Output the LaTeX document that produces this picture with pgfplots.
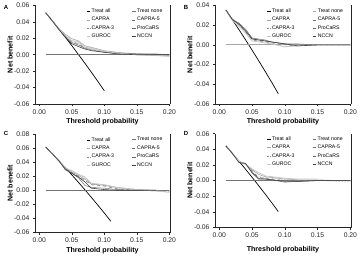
\documentclass[border=0pt]{standalone}
\usepackage{pgfplots}
\usepackage{pgfplotstable}
\pgfplotsset{compat=1.18}
\usepackage{fontspec}
\setmainfont{Liberation Sans}

% Net benefit of each model, one table per cohort
\pgfplotstableread{
pt    capra   capraf  caprat  procars guroc   nccn
0.01  0.0510  0.0510  0.0510  0.0510  0.0510  0.0510
0.02  0.0415  0.0414  0.0414  0.0413  0.0414  0.0413
0.03  0.0320  0.0312  0.0316  0.0312  0.0314  0.0310
0.04  0.0250  0.0230  0.0235  0.0220  0.0232  0.0212
0.05  0.0195  0.0165  0.0175  0.0150  0.0172  0.0135
0.06  0.0170  0.0130  0.0140  0.0120  0.0160  0.0100
0.07  0.0110  0.0090  0.0100  0.0080  0.0090  0.0070
0.08  0.0090  0.0070  0.0080  0.0060  0.0070  0.0050
0.10  0.0050  0.0040  0.0040  0.0030  0.0040  0.0030
0.12  0.0030  0.0020  0.0020  0.0020  0.0020  0.0010
0.15  0.0010  0.0010  0.0000  0.0010  0.0000  0.0000
0.18  0.0000  0.0000  -0.0010 0.0010  -0.0010 0.0000
0.20  -0.0010 0.0000  -0.0020 0.0000  -0.0020 0.0000
}\dataA
\pgfplotstableread{
pt    capra   capraf  caprat  procars guroc   nccn
0.01  0.0354  0.0354  0.0354  0.0354  0.0354  0.0354
0.02  0.0260  0.0250  0.0260  0.0260  0.0250  0.0255
0.03  0.0210  0.0200  0.0220  0.0220  0.0190  0.0210
0.04  0.0150  0.0130  0.0150  0.0160  0.0120  0.0140
0.05  0.0070  0.0050  0.0060  0.0070  0.0040  0.0060
0.06  0.0050  0.0040  0.0050  0.0060  0.0030  0.0050
0.07  0.0040  0.0030  0.0040  0.0050  0.0020  0.0040
0.08  0.0030  0.0020  0.0020  0.0030  0.0010  0.0030
0.10  0.0010  0.0000  -0.0020 0.0010  -0.0020 0.0010
0.12  0.0000  -0.0010 0.0000  0.0010  -0.0010 -0.0010
0.15  0.0000  0.0000  0.0000  0.0000  0.0000  0.0000
0.18  0.0000  0.0000  0.0000  0.0000  0.0000  0.0000
0.20  0.0000  0.0000  0.0000  0.0000  0.0000  0.0000
}\dataB
\pgfplotstableread{
pt    capra   capraf  caprat  procars guroc   nccn
0.01  0.0614  0.0614  0.0614  0.0614  0.0614  0.0614
0.02  0.0518  0.0518  0.0518  0.0518  0.0518  0.0518
0.03  0.0421  0.0421  0.0421  0.0421  0.0421  0.0421
0.04  0.0310  0.0300  0.0310  0.0290  0.0320  0.0300
0.05  0.0260  0.0250  0.0270  0.0240  0.0280  0.0240
0.06  0.0210  0.0200  0.0220  0.0180  0.0230  0.0190
0.07  0.0160  0.0140  0.0180  0.0070  0.0190  0.0120
0.08  0.0090  0.0080  0.0090  0.0040  0.0100  0.0030
0.10  0.0070  0.0060  0.0070  0.0030  0.0080  0.0010
0.12  0.0040  0.0020  0.0030  0.0010  0.0040  0.0000
0.15  0.0010  0.0000  0.0010  0.0000  0.0010  0.0000
0.18  0.0000  -0.0010 0.0000  0.0000  -0.0010 0.0000
0.20  -0.0010 -0.0020 -0.0010 0.0000  -0.0030 nan
}\dataC
\pgfplotstableread{
pt    capra   capraf  caprat  procars guroc   nccn
0.01  0.0444  0.0444  0.0444  0.0444  0.0444  0.0444
0.02  0.0347  0.0347  0.0347  0.0347  0.0347  0.0347
0.03  0.0250  0.0240  0.0240  0.0240  0.0250  0.0230
0.04  0.0210  0.0220  0.0220  0.0210  0.0210  0.0220
0.05  0.0140  0.0120  0.0130  0.0110  0.0150  0.0100
0.06  0.0080  0.0040  0.0050  0.0030  0.0100  0.0020
0.07  0.0050  0.0030  0.0040  0.0020  0.0060  0.0020
0.08  0.0040  0.0020  0.0030  0.0010  0.0050  0.0010
0.10  0.0020  0.0000  0.0010  -0.0020 0.0030  -0.0010
0.12  0.0010  -0.0010 0.0000  -0.0010 0.0020  -0.0010
0.15  0.0010  0.0000  0.0000  0.0000  0.0020  0.0000
0.18  0.0000  0.0000  -0.0010 0.0000  nan     0.0000
0.20  0.0000  0.0000  -0.0010 0.0000  nan     0.0000
}\dataD

\pgfplotsset{
  dca/.style={
    scale only axis, width=135bp, height=98.5bp,
    xmin=-0.0066, xmax=0.201,
    scaled x ticks=false, scaled y ticks=false,
    % left, bottom and right frame lines, open at the top
    axis x line*=bottom, axis y line*=box,
    axis line style={line width=0.6pt, black!85},
    tick align=outside, xtick pos=bottom, ytick pos=left, major tick length=2bp,
    tick style={line width=0.5pt, black!85},
    xtick={0,0.05,0.1,0.15,0.2},
    xticklabels={0.00,0.05,0.10,0.15,0.20},
    ticklabel style={font=\fontsize{6.8}{7}\selectfont, text=black!85},
    xlabel={Threshold probability}, ylabel={Net benefit},
    label style={font=\bfseries\fontsize{7.1}{8}\selectfont},
    xlabel style={at={(axis description cs:0.5,0)}, anchor=center, yshift=-18bp},
    ylabel style={at={(axis description cs:-0.185,0.5)}, anchor=center},
    legend columns=2, legend cell align=left,
    legend style={draw=none, fill=none, font=\fontsize{5.2}{6}\selectfont,
      at={(axis description cs:0.356,0.995)}, anchor=north west,
      row sep=2.1bp, column sep=0.5bp,
      nodes={inner sep=0.6bp, text width=39bp, align=left}},
    legend image code/.code={\draw[##1] (0bp,0bp) -- (3.5bp,0bp);},
    clip=false,
  },
  treatall/.style={black, line width=0.7pt},
  treatnone/.style={black!55, line width=0.9pt},
  capra/.style={black!35, line width=0.6pt},
  capraf/.style={black!55, line width=0.5pt, dashed},
  caprat/.style={black!45, line width=0.5pt, densely dotted},
  procars/.style={black!60, line width=0.45pt},
  guroc/.style={black!22, line width=0.8pt},
  nccn/.style={black!75, line width=0.6pt},
}

% the six models of one panel, in legend order
\newcommand{\drawmodels}[1]{%
  \addplot[capra]   table[x=pt,y=capra]   {#1};   \addlegendentry{CAPRA}
  \addplot[capraf]  table[x=pt,y=capraf]  {#1};   \addlegendentry{CAPRA-5}
  \addplot[caprat]  table[x=pt,y=caprat]  {#1};   \addlegendentry{CAPRA-3}
  \addplot[procars] table[x=pt,y=procars] {#1};   \addlegendentry{ProCaRS}
  \addplot[guroc]   table[x=pt,y=guroc]   {#1};   \addlegendentry{GUROC}
  \addplot[nccn]    table[x=pt,y=nccn]    {#1};   \addlegendentry{NCCN}
}

\begin{document}
\begin{tikzpicture}
\useasboundingbox (0,0) rectangle (360bp,256bp);

% ---- A ----
\begin{axis}[dca, at={(35bp,152bp)}, anchor=south west,
  ymin=-0.06, ymax=0.06, ytick={-0.06,-0.04,-0.02,0,0.02,0.04,0.06},
  yticklabels={-0.06,-0.04,-0.02,0.00,0.02,0.04,0.06}]
  \addplot[treatall] coordinates {(0.01,0.0510) (0.02,0.0413) (0.03,0.0314) (0.04,0.0214) (0.05,0.0111) (0.06,0.0005) (0.07,-0.0102) (0.08,-0.0212) (0.09,-0.0324) (0.10,-0.0439)};
  \addlegendentry{Treat all}
  \addplot[treatnone] coordinates {(0.01,0) (0.20,0)};
  \addlegendentry{Treat none}
  \drawmodels{\dataA}
\end{axis}

% ---- B ----
\begin{axis}[dca, at={(215bp,152bp)}, anchor=south west, width=136bp,
  ymin=-0.06, ymax=0.04, ytick={-0.06,-0.04,-0.02,0,0.02,0.04},
  yticklabels={-0.06,-0.04,-0.02,0.00,0.02,0.04}]
  \addplot[treatall] coordinates {(0.01,0.0354) (0.02,0.0255) (0.03,0.0155) (0.04,0.0052) (0.05,-0.0053) (0.06,-0.0160) (0.07,-0.0269) (0.08,-0.0380) (0.09,-0.0495)};
  \addlegendentry{Treat all}
  \addplot[treatnone, black!35, line width=1.1pt] coordinates {(0.01,0) (0.20,0)};
  \addlegendentry{Treat none}
  \drawmodels{\dataB}
\end{axis}

% ---- C ----
\begin{axis}[dca, at={(35bp,23.5bp)}, anchor=south west,
  ymin=-0.06, ymax=0.08, ytick={-0.06,-0.04,-0.02,0,0.02,0.04,0.06,0.08},
  yticklabels={-0.06,-0.04,-0.02,0.00,0.02,0.04,0.06,0.08}]
  \addplot[treatall] coordinates {(0.01,0.0614) (0.02,0.0518) (0.03,0.0421) (0.04,0.0321) (0.05,0.0219) (0.06,0.0115) (0.07,0.0009) (0.08,-0.0100) (0.09,-0.0211) (0.10,-0.0324) (0.11,-0.0440)};
  \addlegendentry{Treat all}
  \addplot[treatnone] coordinates {(0.01,-0.0005) (0.20,-0.0005)};
  \addlegendentry{Treat none}
  \drawmodels{\dataC}
\end{axis}

% ---- D ----
\begin{axis}[dca, at={(215bp,28.5bp)}, anchor=south west, width=136bp, height=93.8bp,
  xlabel style={yshift=-4bp},
  legend style={at={(axis description cs:0.356,1.0)}},
  ymin=-0.06, ymax=0.06, ytick={-0.06,-0.04,-0.02,0,0.02,0.04,0.06},
  yticklabels={-0.06,-0.04,-0.02,0.00,0.02,0.04,0.06}]
  \addplot[treatall] coordinates {(0.01,0.0444) (0.02,0.0347) (0.03,0.0247) (0.04,0.0146) (0.05,0.0042) (0.06,-0.0064) (0.07,-0.0172) (0.08,-0.0283) (0.09,-0.0396)};
  \addlegendentry{Treat all}
  \addplot[treatnone] coordinates {(0.01,0) (0.20,0)};
  \addlegendentry{Treat none}
  \drawmodels{\dataD}
\end{axis}

% panel letters
\begin{scope}[every node/.style={font=\bfseries\fontsize{6}{7}\selectfont, anchor=center}]
  \node at (6bp,249bp) {A};
  \node at (186bp,249bp) {B};
  \node at (6bp,123bp) {C};
  \node at (186bp,123bp) {D};
\end{scope}
\end{tikzpicture}
\end{document}
